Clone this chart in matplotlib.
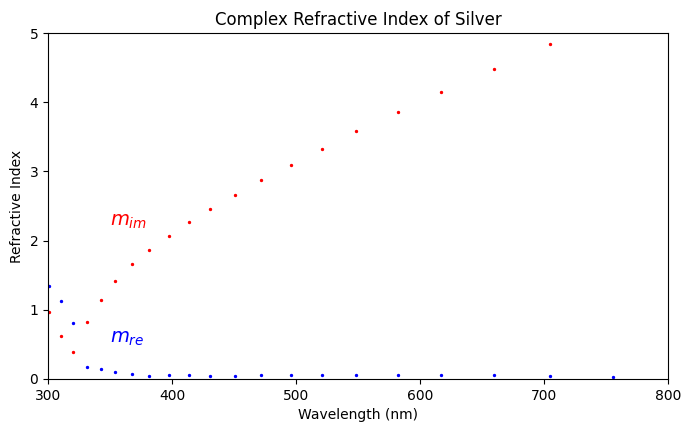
import matplotlib
matplotlib.use('agg')
import matplotlib.pyplot as plt

# silver, Johnson & Christy style table (wavelength in nm)
wavelength = [300.9, 310.7, 320.4, 331.5, 342.5, 354.2, 367.9, 381.5, 397.4,
              413.3, 430.5, 450.9, 471.4, 495.9, 520.9, 548.6, 582.1, 616.8,
              659.5, 704.5, 756.0]
m_re = [1.34, 1.13, 0.81, 0.17, 0.14, 0.10, 0.07, 0.05, 0.055,
        0.055, 0.045, 0.045, 0.055, 0.055, 0.055, 0.055, 0.055, 0.055,
        0.055, 0.045, 0.03]
m_im = [0.964, 0.616, 0.392, 0.829, 1.142, 1.419, 1.657, 1.864, 2.070,
        2.275, 2.462, 2.657, 2.869, 3.093, 3.324, 3.586, 3.858, 4.152,
        4.483, 4.838, 5.242]

fig = plt.figure(figsize=(6.91, 4.32), dpi=100)
ax = fig.add_axes([0.0695, 0.1227, 0.8972, 0.8009])

ax.plot(wavelength, m_re, 'o', color='blue', markersize=1.6, markeredgewidth=0.8)
ax.plot(wavelength, m_im, 'o', color='red', markersize=1.6, markeredgewidth=0.8)

ax.text(350, 2.21, '$m_{im}$', color='red', fontsize=14)
ax.text(350, 0.52, '$m_{re}$', color='blue', fontsize=14)

ax.set_xlim(300, 800)
ax.set_ylim(0, 5)
ax.set_xlabel('Wavelength (nm)')
ax.set_ylabel('Refractive Index')
ax.set_title('Complex Refractive Index of Silver')

plt.savefig('out.png', format='png', transparent=False)
